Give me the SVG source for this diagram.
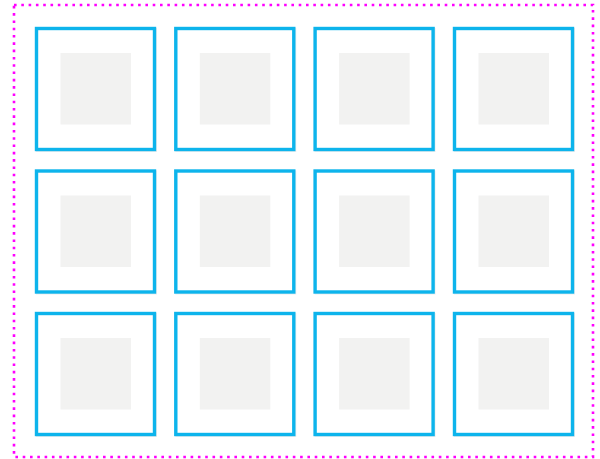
<svg xmlns="http://www.w3.org/2000/svg" width="600" height="459" viewBox="0 0 600 459">
<style>
.frame{fill:none;stroke:#ff00ff;stroke-width:2.6;stroke-dasharray:2.6 4.7}
.box{fill:#ffffff;stroke:#0db4ec;stroke-width:3.4}
.shadow{fill:none;stroke:#000;stroke-opacity:0.07;stroke-width:3}
.inner{fill:#f2f2f1}
</style>
<rect x="0" y="0" width="600" height="459" fill="#ffffff"/>
<rect class="frame" x="14" y="5" width="579" height="452"/>
<g id="cells">
<g id="c11"><rect class="shadow" x="37.5" y="29.5" width="118" height="121"/><rect class="box" x="36.5" y="28.5" width="118" height="121"/><rect class="inner" x="60.5" y="53" width="70.5" height="71.5"/></g>
<g id="c12"><rect class="shadow" x="176.8" y="29.5" width="118" height="121"/><rect class="box" x="175.8" y="28.5" width="118" height="121"/><rect class="inner" x="199.8" y="53" width="70.5" height="71.5"/></g>
<g id="c13"><rect class="shadow" x="316.1" y="29.5" width="118" height="121"/><rect class="box" x="315.1" y="28.5" width="118" height="121"/><rect class="inner" x="339.1" y="53" width="70.5" height="71.5"/></g>
<g id="c14"><rect class="shadow" x="455.5" y="29.5" width="118" height="121"/><rect class="box" x="454.5" y="28.5" width="118" height="121"/><rect class="inner" x="478.5" y="53" width="70.5" height="71.5"/></g>
<g id="c21"><rect class="shadow" x="37.5" y="172" width="118" height="121"/><rect class="box" x="36.5" y="171" width="118" height="121"/><rect class="inner" x="60.5" y="195.5" width="70.5" height="71.5"/></g>
<g id="c22"><rect class="shadow" x="176.8" y="172" width="118" height="121"/><rect class="box" x="175.8" y="171" width="118" height="121"/><rect class="inner" x="199.8" y="195.5" width="70.5" height="71.5"/></g>
<g id="c23"><rect class="shadow" x="316.1" y="172" width="118" height="121"/><rect class="box" x="315.1" y="171" width="118" height="121"/><rect class="inner" x="339.1" y="195.5" width="70.5" height="71.5"/></g>
<g id="c24"><rect class="shadow" x="455.5" y="172" width="118" height="121"/><rect class="box" x="454.5" y="171" width="118" height="121"/><rect class="inner" x="478.5" y="195.5" width="70.5" height="71.5"/></g>
<g id="c31"><rect class="shadow" x="37.5" y="314.5" width="118" height="121"/><rect class="box" x="36.5" y="313.5" width="118" height="121"/><rect class="inner" x="60.5" y="338" width="70.5" height="71.5"/></g>
<g id="c32"><rect class="shadow" x="176.8" y="314.5" width="118" height="121"/><rect class="box" x="175.8" y="313.5" width="118" height="121"/><rect class="inner" x="199.8" y="338" width="70.5" height="71.5"/></g>
<g id="c33"><rect class="shadow" x="316.1" y="314.5" width="118" height="121"/><rect class="box" x="315.1" y="313.5" width="118" height="121"/><rect class="inner" x="339.1" y="338" width="70.5" height="71.5"/></g>
<g id="c34"><rect class="shadow" x="455.5" y="314.5" width="118" height="121"/><rect class="box" x="454.5" y="313.5" width="118" height="121"/><rect class="inner" x="478.5" y="338" width="70.5" height="71.5"/></g>
</g>
<g id="connectors"></g>
</svg>
